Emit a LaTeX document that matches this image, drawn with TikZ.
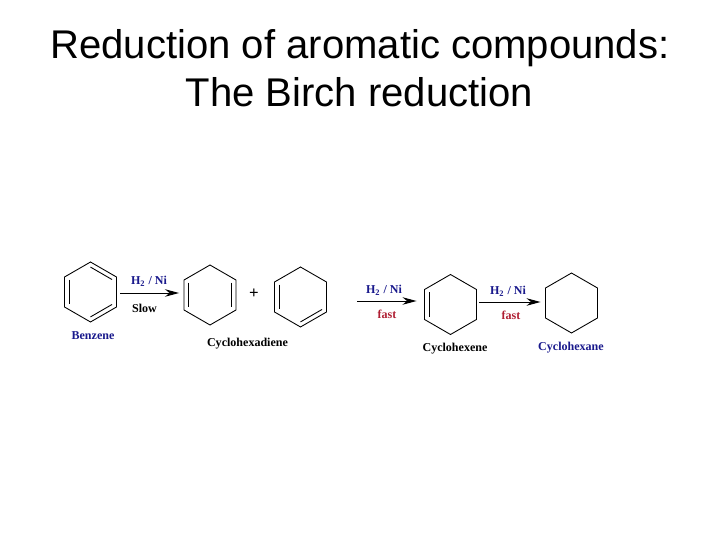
\documentclass[tikz,border=0pt]{standalone}
\usepackage{fontspec}
\setmainfont{Liberation Serif}
\newfontfamily\titlefont{Liberation Sans}
\usepackage{xcolor}
\usetikzlibrary{shapes.geometric,arrows.meta,calc}
\definecolor{namblue}{RGB}{25,25,140}
\definecolor{namred}{RGB}{175,30,50}
\tikzset{
 ring/.style={draw,regular polygon,regular polygon sides=6,shape border rotate=30,minimum size=1.2cm,inner sep=0pt,outer sep=0pt,line width=0.5pt},
 rxn/.style={line width=0.55pt,-{Stealth[length=0.28cm,width=0.15cm]}},
 lbl/.style={font=\bfseries\fontsize{6.85}{8}\selectfont,inner sep=0pt,anchor=base},
 ttl/.style={font=\titlefont\fontsize{22.8}{26}\selectfont,inner sep=0pt,anchor=base}
}
\begin{document}
\begin{tikzpicture}[x=0.02cm,y=-0.02cm]
\useasboundingbox (0,0) rectangle (720,540);
\node[ttl] (title1) at (360,58.5) {Reduction of aromatic compounds:};
\node[ttl] (title2) at (359.5,107) {The Birch reduction};

\foreach \name/\x/\y in {benzene/90.5/292,dienea/210/295,dieneb/300.5/297,hexene/450.5/304.5,hexane/571.5/303}{
 \node[ring] (\name) at (\x,\y) {};
 }
% inner lines of the double bonds
\foreach \name/\a/\b in {benzene/90/30,benzene/150/-150,benzene/-30/-90,dienea/150/-150,dienea/30/-30,dieneb/150/-150,dieneb/-30/-90,hexene/150/-150}{
 \draw[line width=0.5pt] ($(\name.\a)!0.17!(\name.center)$) -- ($(\name.\b)!0.17!(\name.center)$);
 }

\coordinate (start) at (357,301);
\draw[rxn] ($(benzene.east)+(4,1)$) -- ($(dienea.west)+(-5,-2)$);
\draw[rxn] (start) -- ($(hexene.west)+(-8,-3.5)$);
\draw[rxn] ($(hexene.east)+(3,-2.5)$) -- ($(hexane.west)+(-5,-1)$);

\node[lbl,text=namblue] (h1) at (149,285) {H$_{\mathbf 2}$ / Ni};
\node[lbl] (slow) at (144.5,313) {Slow};
\node[lbl,scale=1.4] (plus) at (254,299) {+};
\node[lbl,text=namblue] (h2) at (384,294) {H$_{\mathbf 2}$ / Ni};
\node[lbl,text=namred] (fast1) at (387,319) {fast};
\node[lbl,text=namblue] (h3) at (508,295) {H$_{\mathbf 2}$ / Ni};
\node[lbl,text=namred] (fast2) at (511,319.5) {fast};
\node[lbl,text=namblue] (nbenzene) at (93,340) {Benzene};
\node[lbl] (ndiene) at (247.5,346.5) {Cyclohexadiene};
\node[lbl] (nhexene) at (455,352) {Cyclohexene};
\node[lbl,text=namblue] (nhexane) at (571,351) {Cyclohexane};
\end{tikzpicture}
\end{document}
